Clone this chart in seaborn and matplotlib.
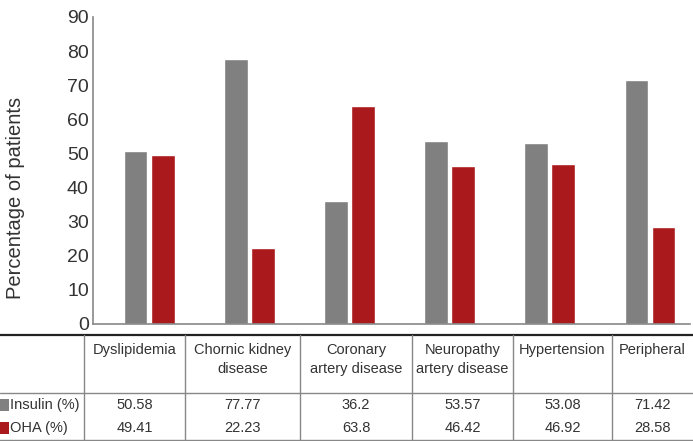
import matplotlib
matplotlib.use("Agg")
import matplotlib.pyplot as plt
import pandas as pd
import seaborn as sns

# data
categories = ["Dyslipidemia", "Chornic kidney disease", "Coronary artery disease",
              "Neuropathy artery disease", "Hypertension", "Peripheral"]
col_labels = ["Dyslipidemia", "Chornic kidney\ndisease", "Coronary\nartery disease",
              "Neuropathy\nartery disease", "Hypertension", "Peripheral"]
insulin = [50.58, 77.77, 36.2, 53.57, 53.08, 71.42]
oha = [49.41, 22.23, 63.8, 46.42, 46.92, 28.58]
insulin_txt = ["50.58", "77.77", "36.2", "53.57", "53.08", "71.42"]
oha_txt = ["49.41", "22.23", "63.8", "46.42", "46.92", "28.58"]
series = ["Insulin (%)", "OHA (%)"]

df = pd.DataFrame({
    "cat": categories * 2,
    "val": insulin + oha,
    "group": [series[0]] * 6 + [series[1]] * 6,
})

sns.set_style("white")
plt.rcParams["font.family"] = ["Liberation Sans", "DejaVu Sans"]

gray = "#808080"
red = "#AA1A1C"

fig = plt.figure(figsize=(6.93, 4.41), dpi=100)
W, H = 693, 441
ax = fig.add_axes([93 / W, (H - 324) / H, (690 - 93) / W, (324 - 17) / H])

sns.barplot(data=df, x="cat", y="val", hue="group", palette=[gray, red],
            width=0.54, gap=0.12, ax=ax, legend=False, saturation=1)
ax.set_ylim(0, 90)
ax.set_xlim(-0.56, 5.40)
ax.set_yticks(range(0, 91, 10))
ax.tick_params(axis="y", labelsize=14, colors="#333333", length=0, pad=3)
ax.set_xticks([])
ax.set_xlabel("")
ax.set_ylabel("Percentage of patients", fontsize=14.5, color="#333333")
ax.yaxis.set_label_coords(-0.114, 0.41)
for s in ["top", "right"]:
    ax.spines[s].set_visible(False)
for s in ["left", "bottom"]:
    ax.spines[s].set_color("#888888")
    ax.spines[s].set_linewidth(1.2)

# table below the chart, in pixel coordinates
tb = fig.add_axes([0, 0, 1, 1], zorder=-1)
tb.set_xlim(0, W)
tb.set_ylim(H, 0)
tb.axis("off")

borders = [84, 185, 300, 412, 513, 612, 693]
top, mid, bot = 335, 393, 440
tb.plot([0, W], [top, top], color="#222222", lw=1.6)
tb.plot([0, W], [mid, mid], color="#888888", lw=1)
tb.plot([0, W], [bot, bot], color="#888888", lw=1)
for x in borders[:-1]:
    tb.plot([x, x], [top, bot], color="#888888", lw=1)

tcol = "#333333"
for i, lab in enumerate(col_labels):
    cx = (borders[i] + borders[i + 1]) / 2
    tb.text(cx, 343, lab, ha="center", va="top", fontsize=10.5, color=tcol,
            linespacing=1.45)
    tb.text(cx, 405, insulin_txt[i], ha="center", va="center", fontsize=10.5, color=tcol)
    tb.text(cx, 428, oha_txt[i], ha="center", va="center", fontsize=10.5, color=tcol)

for y, lab, c in [(405, series[0], gray), (428, series[1], red)]:
    tb.add_patch(plt.Rectangle((0, y - 6), 9, 12, color=c, lw=0))
    tb.text(10, y, lab, ha="left", va="center", fontsize=10.5, color=tcol)

fig.savefig("out.png", dpi=100)
